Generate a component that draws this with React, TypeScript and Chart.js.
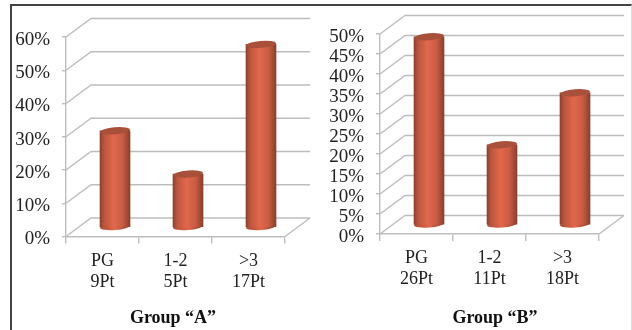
import React, { useEffect, useRef } from "react";
import { Chart, registerables } from "chart.js";

Chart.register(...registerables);

const groupALabels = [["PG", "9Pt"], ["1-2", "5Pt"], [">3", "17Pt"]];
const groupAValues = [29, 16, 55];
const groupBLabels = [["PG", "26Pt"], ["1-2", "11Pt"], [">3", "18Pt"]];
const groupBValues = [47, 20, 33];

const SERIF = '"Liberation Serif", serif';
const GRID = "#bdbdbd";
const TEXT = "#222222";
const DEPTH_X = 25;
const DEPTH_Y = 18.5;
const BAR_W = 30;

// Draws the receding walls, then shifts the bars to mid-depth and caps them as cylinders.
const depthPlugin = {
  id: "depth",
  afterLayout(chart: any, _a: any, opts: any) {
    const block = chart.titleBlock;
    if (block) {
      block.left = opts.titleCenter - 150;
      block.right = opts.titleCenter + 150;
    }
  },
  beforeDatasetsDraw(chart: any) {
    const { ctx, scales } = chart;
    const { x, y } = scales;
    ctx.save();
    ctx.strokeStyle = GRID;
    ctx.lineWidth = 1.4;
    for (const tick of y.ticks) {
      const py = y.getPixelForValue(tick.value);
      ctx.beginPath();
      ctx.moveTo(x.left, py);
      ctx.lineTo(x.left + DEPTH_X, py - DEPTH_Y);
      ctx.lineTo(x.right + DEPTH_X, py - DEPTH_Y);
      ctx.stroke();
    }
    const floor = y.getPixelForValue(0);
    ctx.beginPath();
    ctx.moveTo(x.right, floor);
    ctx.lineTo(x.right + DEPTH_X, floor - DEPTH_Y);
    ctx.stroke();
    ctx.restore();

    ctx.save();
    ctx.translate(DEPTH_X / 2, -DEPTH_Y / 2);
    for (const bar of chart.getDatasetMeta(0).data) {
      const grad = ctx.createLinearGradient(bar.x - BAR_W / 2, 0, bar.x + BAR_W / 2, 0);
      grad.addColorStop(0, "#a84c35");
      grad.addColorStop(0.5, "#e2674b");
      grad.addColorStop(1, "#8e412e");
      ctx.fillStyle = grad;
      ctx.beginPath();
      ctx.ellipse(bar.x, bar.base, BAR_W / 2, 3.5, -0.08, 0, Math.PI * 2);
      ctx.fill();
    }
  },
  afterDatasetsDraw(chart: any) {
    const { ctx } = chart;
    for (const bar of chart.getDatasetMeta(0).data) {
      ctx.fillStyle = "#a9503a";
      ctx.beginPath();
      ctx.ellipse(bar.x, bar.y, BAR_W / 2, 3.5, -0.08, 0, Math.PI * 2);
      ctx.fill();
    }
    ctx.restore();
  },
};

function barFill(context: any) {
  const { chart, dataIndex } = context;
  if (!chart.chartArea) return "#e2674b";
  const cx = chart.scales.x.getPixelForValue(dataIndex);
  const grad = chart.ctx.createLinearGradient(cx - BAR_W / 2, 0, cx + BAR_W / 2, 0);
  grad.addColorStop(0, "#8e412e");
  grad.addColorStop(0.14, "#bb563e");
  grad.addColorStop(0.45, "#e2674b");
  grad.addColorStop(0.75, "#c95d44");
  grad.addColorStop(1, "#8a3f2d");
  return grad;
}

type PanelProps = {
  labels: string[][];
  values: number[];
  title: string;
  yMax: number;
  yStep: number;
  left: number;
  width: number;
  plotLeft: number;
  plotRight: number;
  plotTop: number;
  plotBottom: number;
  titleCenter: number;
};

function Panel(p: PanelProps) {
  const ref = useRef<HTMLCanvasElement>(null);
  useEffect(() => {
    const chart = new Chart(ref.current as HTMLCanvasElement, {
      type: "bar",
      data: {
        labels: p.labels,
        datasets: [{ data: p.values, backgroundColor: barFill, barThickness: BAR_W, clip: false }],
      },
      plugins: [depthPlugin],
      options: {
        animation: false,
        responsive: false,
        layout: {
          padding: {
            left: 0,
            right: p.width - (p.plotRight - p.left),
            top: p.plotTop,
            bottom: 1,
          },
        },
        plugins: {
          legend: { display: false },
          tooltip: { enabled: false },
          depth: { titleCenter: p.titleCenter - p.left },
          title: {
            display: true,
            text: p.title,
            position: "bottom",
            color: "#111111",
            padding: 0,
            font: { family: SERIF, size: 18, weight: "bold" },
          },
        },
        scales: {
          x: {
            afterFit(scale: any) {
              scale.height = 329 - 21.6 - p.plotBottom;
            },
            grid: { drawOnChartArea: false, color: GRID, tickLength: 7, lineWidth: 1.4 },
            border: { color: GRID, width: 1.4 },
            ticks: {
              color: TEXT,
              padding: 7,
              maxRotation: 0,
              font: { family: SERIF, size: 18, lineHeight: 1.17 },
            },
          },
          y: {
            min: 0,
            max: p.yMax,
            afterFit(scale: any) {
              scale.width = p.plotLeft - p.left;
            },
            grid: { drawOnChartArea: false, color: GRID, tickLength: 4, lineWidth: 1.4 },
            border: { color: GRID, width: 1.4 },
            ticks: {
              stepSize: p.yStep,
              autoSkip: false,
              labelOffset: 3,
              color: TEXT,
              padding: 12,
              callback: (v: any) => `${v}%`,
              font: { family: SERIF, size: 19 },
            },
          },
        },
      } as any,
    });
    return () => chart.destroy();
  }, []);
  return (
    <canvas
      ref={ref}
      width={p.width}
      height={330}
      style={{ position: "absolute", left: p.left, top: 0, width: p.width, height: 330 }}
    />
  );
}

export default function App() {
  return (
    <div
      style={{
        position: "absolute",
        left: 0,
        top: 0,
        width: 632,
        height: 330,
        overflow: "hidden",
        background: "#ffffff",
      }}
    >
      <div
        style={{
          position: "absolute",
          left: 10,
          top: 4,
          width: 619,
          height: 340,
          borderLeft: "2px solid #444444",
          borderTop: "2px solid #444444",
          borderRight: "1px solid #dddddd",
        }}
      />
      <Panel
        labels={groupALabels}
        values={groupAValues}
        title="Group “A”"
        yMax={60}
        yStep={10}
        left={0}
        width={316}
        plotLeft={66}
        plotRight={285}
        plotTop={37}
        plotBottom={236.5}
        titleCenter={173}
      />
      <Panel
        labels={groupBLabels}
        values={groupBValues}
        title="Group “B”"
        yMax={50}
        yStep={5}
        left={316}
        width={316}
        plotLeft={380}
        plotRight={599}
        plotTop={34}
        plotBottom={234}
        titleCenter={495}
      />
    </div>
  );
}
